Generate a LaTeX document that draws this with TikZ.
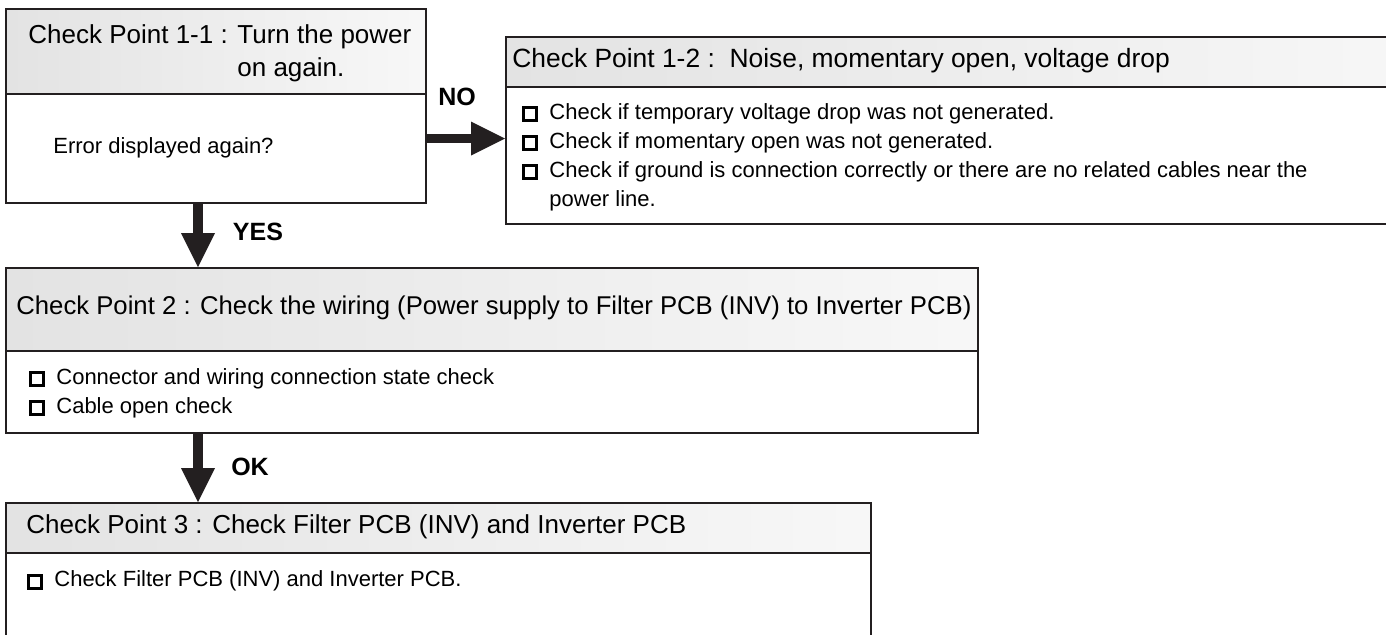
\documentclass[tikz,border=0pt]{standalone}
\usepackage{fontspec}
\setmainfont{Liberation Sans}
\usetikzlibrary{arrows.meta, positioning, calc}
\definecolor{cpline}{HTML}{231F20}
\newcommand{\chkbox}{{\setlength{\fboxrule}{1.5pt}\setlength{\fboxsep}{0pt}\fbox{\rule{0pt}{5pt}\rule{5pt}{0pt}}}}

\begin{document}
\begin{tikzpicture}[x=0.5pt, y=-0.5pt,
    head/.style={rectangle, draw=cpline, line width=1pt, left color=black!11, right color=black!3,
                 anchor=north west, inner sep=0pt, minimum width=#1},
    body/.style={rectangle, draw=cpline, line width=1pt, fill=white,
                 anchor=north west, inner sep=0pt, minimum width=#1},
    htxt/.style={anchor=west, inner sep=0pt, align=left, font=\fontsize{13}{16.5}\selectfont},
    btxt/.style={anchor=west, inner sep=0pt, align=left, font=\fontsize{11}{14.5}\selectfont},
    flow/.style={draw=cpline, line width=4.8pt,
                 -{Triangle[length=17pt, width=17pt, line width=0pt]}},
    tag/.style={inner sep=0pt, font=\bfseries\fontsize{12.5}{15}\selectfont}
]
\useasboundingbox (0,0) rectangle (1386,634);
\clip (0,0) rectangle (1386,634);

\node[head=210pt, minimum height=42.5pt] (b11h) at (5,8) {};
\node[body=210pt, minimum height=54.5pt] (b11b) at (5,93) {};
\node[head=460pt, minimum height=25pt]   (b12h) at (505,36) {};
\node[body=460pt, minimum height=68.5pt] (b12b) at (505,86) {};
\node[head=486pt, minimum height=41.5pt] (b2h)  at (5,267) {};
\node[body=486pt, minimum height=41pt]   (b2b)  at (5,350) {};
\node[head=432.5pt, minimum height=25pt] (b3h)  at (5,502) {};
\node[body=432.5pt, minimum height=60pt] (b3b)  at (5,552) {};

\node[htxt] (t11h) at (28,53) {Check Point 1-1 : Turn the power\\\hspace*{104.5pt}on again.};
\node[btxt] (t11b) at (53,148) {Error displayed again?};
\node[htxt, font=\fontsize{13.2}{16.5}\selectfont] (t12h) at (512,61) {Check Point 1-2 :\ \ Noise, momentary open, voltage drop};
\node[btxt] (t12b) at (522,157) {\chkbox\hspace{5.5pt}Check if temporary voltage drop was not generated.\\
    \chkbox\hspace{5.5pt}Check if momentary open was not generated.\\
    \chkbox\hspace{5.5pt}Check if ground is connection correctly or there are no related cables near the\\
    \hspace*{13.5pt}power line.};
\node[htxt, font=\fontsize{12.85}{16}\selectfont] (t2h) at (16,308) {Check Point 2 : Check the wiring (Power supply to Filter PCB (INV) to Inverter PCB)};
\node[btxt] (t2b) at (29,393) {\chkbox\hspace{5.5pt}Connector and wiring connection state check\\
    \chkbox\hspace{5.5pt}Cable open check};
\node[htxt] (t3h) at (26,527) {Check Point 3 : Check Filter PCB (INV) and Inverter PCB};
\node[btxt] (t3b) at (27,581) {\chkbox\hspace{5.5pt}Check Filter PCB (INV) and Inverter PCB.};

\draw[flow] ([yshift=5pt]b11b.east) -- ([yshift=5pt]b11b.east -| b12b.west);
\draw[flow] (b11b.south -| 198,0) -- (b2h.north -| 198,0);
\draw[flow] (b2b.south -| 198,0) -- (b3h.north -| 198,0);

\node[tag] (no)  at (457,97)  {NO};
\node[tag] (yes) at (258,232) {YES};
\node[tag] (ok)  at (250,467) {OK};
\end{tikzpicture}
\end{document}
